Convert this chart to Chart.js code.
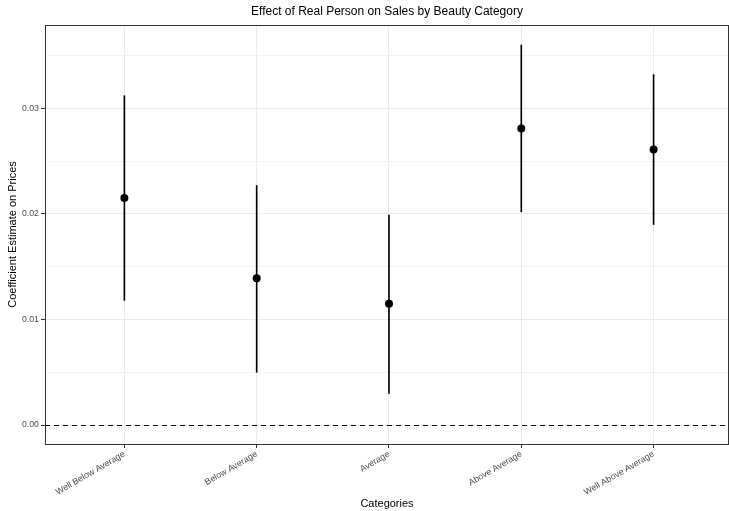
<!DOCTYPE html>
<html>
<head>
<meta charset="utf-8">
<script src="https://cdn.jsdelivr.net/npm/chart.js@4.4.0/dist/chart.umd.min.js"></script>
<style>
  body { margin: 0; background: #fff; }
  canvas { display: block; }
</style>
</head>
<body>
<canvas id="chart" width="729" height="511"></canvas>
<script>
// values
const categories = ['Well Below Average', 'Below Average', 'Average', 'Above Average', 'Well Above Average'];
const estimates = [0.0215, 0.0139, 0.0115, 0.0281, 0.0261];
const lowerBounds = [0.0118, 0.0050, 0.0030, 0.0202, 0.0190];
const upperBounds = [0.0312, 0.0227, 0.0199, 0.0360, 0.0332];
const yTicks = [0, 0.005, 0.01, 0.015, 0.02, 0.025, 0.03, 0.035];
const yTickLabels = ['0.00', '', '0.01', '', '0.02', '', '0.03', ''];

const FONT = "'Liberation Sans', Arial, sans-serif";

const panelPlugin = {
  id: 'panel',
  afterDatasetsDraw(chart) {
    const ctx = chart.ctx;
    const area = chart.chartArea;
    const y0 = Math.round(chart.scales.y.getPixelForValue(0)) + 0.5;
    ctx.save();
    ctx.strokeStyle = '#111';
    ctx.lineWidth = 1;
    ctx.setLineDash([5, 4]);
    ctx.beginPath();
    ctx.moveTo(area.left, y0);
    ctx.lineTo(area.right, y0);
    ctx.stroke();
    ctx.restore();
  },
  afterDraw(chart) {
    const ctx = chart.ctx;
    const area = chart.chartArea;
    ctx.save();
    ctx.strokeStyle = '#333';
    ctx.lineWidth = 1;
    ctx.strokeRect(Math.round(area.left) + 0.5, Math.round(area.top) + 0.5,
      Math.round(area.right - area.left) - 1, Math.round(area.bottom - area.top));
    // title centred over the panel, like ggplot
    ctx.fillStyle = '#000';
    ctx.font = '12px ' + FONT;
    ctx.textAlign = 'center';
    ctx.textBaseline = 'middle';
    ctx.fillText('Effect of Real Person on Sales by Beauty Category', (area.left + area.right) / 2, 12);
    ctx.restore();
  }
};

const ctx = document.getElementById('chart').getContext('2d');
new Chart(ctx, {
  type: 'bar',
  data: {
    datasets: [
      {
        type: 'bar',
        data: categories.map((c, i) => ({ x: i, y: [lowerBounds[i], upperBounds[i]] })),
        backgroundColor: '#000',
        borderWidth: 0,
        barThickness: 1,
        order: 2
      },
      {
        type: 'line',
        data: categories.map((c, i) => ({ x: i, y: estimates[i] })),
        showLine: false,
        pointRadius: 4,
        pointBackgroundColor: '#000',
        pointBorderColor: '#000',
        pointBorderWidth: 0,
        order: 1
      }
    ]
  },
  options: {
    responsive: false,
    animation: false,
    layout: { autoPadding: false, padding: { top: 25, right: 0, left: 0, bottom: 0 } },
    plugins: {
      legend: { display: false },
      tooltip: { enabled: false },
      title: { display: false }
    },
    scales: {
      x: {
        type: 'linear',
        min: -0.6,
        max: 4.57,
        offset: false,
        afterBuildTicks: scale => { scale.ticks = categories.map((c, i) => ({ value: i })); },
        afterFit: scale => {
          scale.height = 67;
          scale.paddingLeft = 0;
          scale.paddingRight = 0;
        },
        grid: {
          offset: false,
          color: '#ebebeb',
          lineWidth: 1,
          drawTicks: true,
          tickLength: 4,
          tickColor: '#333'
        },
        border: { display: false },
        ticks: {
          maxRotation: 30,
          minRotation: 30,
          padding: 1,
          color: '#4d4d4d',
          font: { family: FONT, size: 8.8 },
          callback: v => categories[v]
        },
        title: {
          display: true,
          text: 'Categories',
          color: '#000',
          font: { family: FONT, size: 11 },
          padding: { top: 0, bottom: 0 }
        }
      },
      y: {
        min: -0.0018,
        max: 0.0379,
        afterBuildTicks: scale => { scale.ticks = yTicks.map(v => ({ value: v })); },
        afterFit: scale => {
          scale.width = 45;
          scale.paddingTop = 0;
          scale.paddingBottom = 0;
        },
        grid: {
          color: c => (yTickLabels[c.index] ? '#ebebeb' : '#f3f3f3'),
          lineWidth: 1,
          drawTicks: true,
          tickLength: 4,
          tickColor: c => (yTickLabels[c.index] ? '#333' : 'rgba(0,0,0,0)')
        },
        border: { display: false },
        ticks: {
          padding: 2,
          color: '#4d4d4d',
          font: { family: FONT, size: 8.8 },
          callback: (v, i) => yTickLabels[i]
        },
        title: {
          display: true,
          text: 'Coefficient Estimate on Prices',
          color: '#000',
          font: { family: FONT, size: 11 },
          padding: { top: 6, bottom: 0 }
        }
      }
    }
  },
  plugins: [panelPlugin]
});
</script>
</body>
</html>
